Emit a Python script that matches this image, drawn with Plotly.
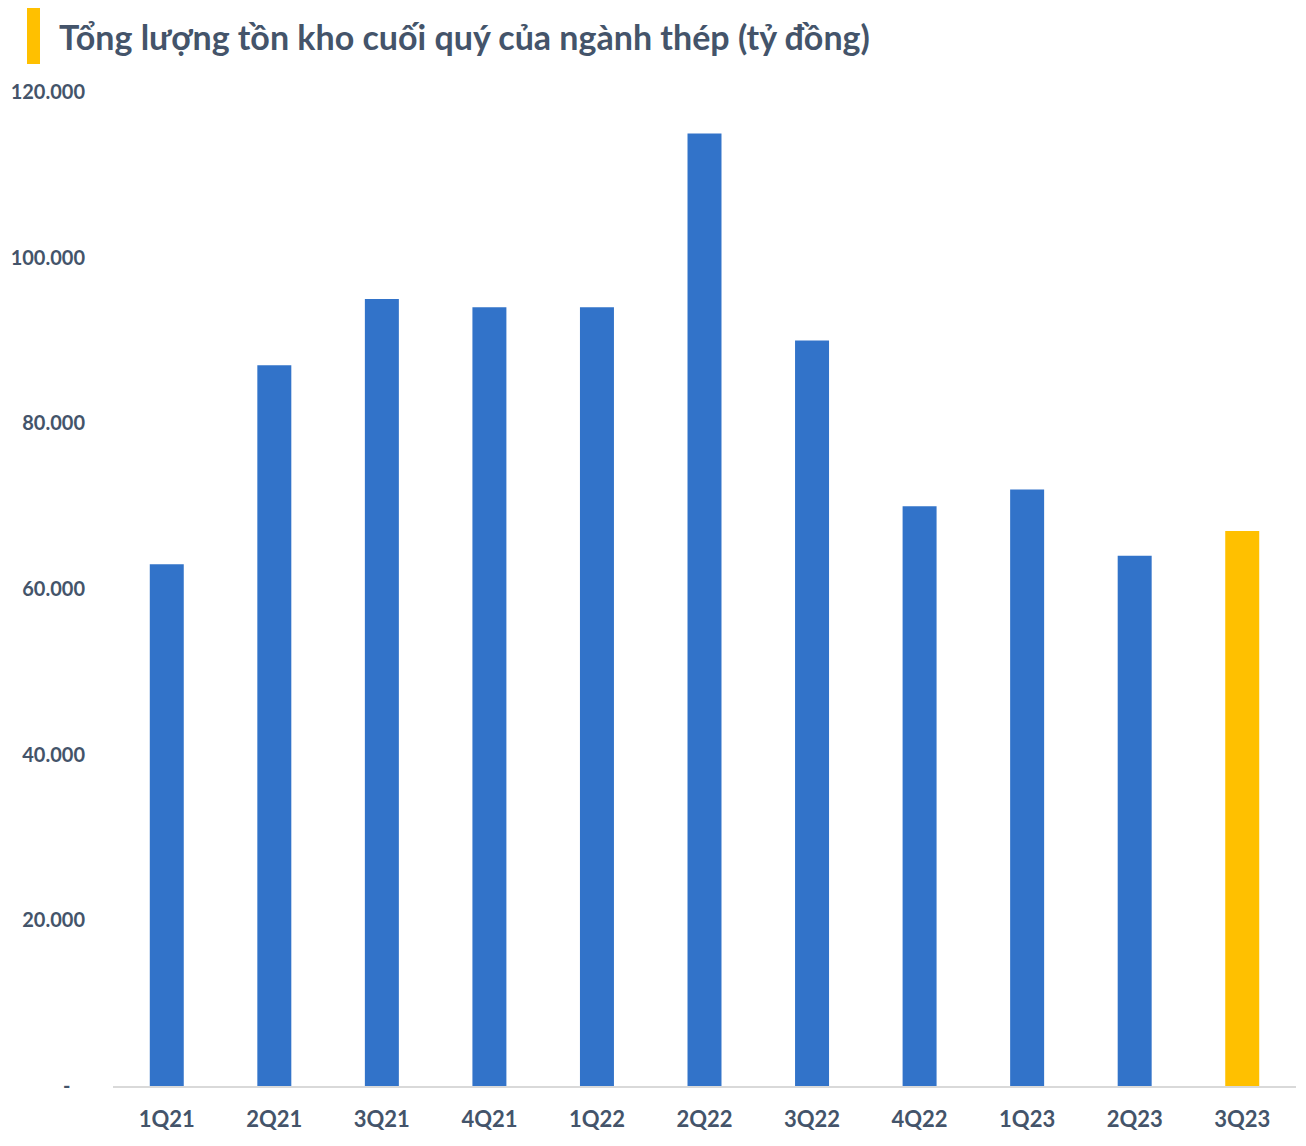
import plotly.graph_objects as go

categories = ["1Q21", "2Q21", "3Q21", "4Q21", "1Q22", "2Q22", "3Q22", "4Q22", "1Q23", "2Q23", "3Q23"]
values = [63000, 87000, 95000, 94000, 94000, 115000, 90000, 70000, 72000, 64000, 67000]
highlight = "3Q23"
y_ticks = [0, 20000, 40000, 60000, 80000, 100000, 120000]
y_ticktext = ["-\u00a0\u00a0\u00a0", "20.000", "40.000", "60.000", "80.000", "100.000", "120.000"]
title_text = "Tổng lượng tồn kho cuối quý của ngành thép (tỷ đồng)"

BLUE = "#3273C9"
YELLOW = "#FFC000"
TEXT = "#44546A"
FONT = "Lato, 'Noto Sans', sans-serif"

colors = [YELLOW if c == highlight else BLUE for c in categories]

fig = go.Figure(go.Bar(x=categories, y=values, marker=dict(color=colors, line=dict(width=0))))

OFF = 8  # page body margin
W, H = 1306 - 2 * OFF, 1146 - 2 * OFF
ml, mr, mt, mb = 113 - OFF, W - (1296 - OFF), 92 - OFF, H - (1086 - OFF)
pw = W - ml - mr
ph = H - mt - mb

def px_x(p):
    return (p - OFF - ml) / pw

def px_y(p):
    return (H - mb - (p - OFF)) / ph

fig.update_layout(
    width=W, height=H,
    margin=dict(l=ml, r=mr, t=mt, b=mb, autoexpand=False),
    paper_bgcolor="white", plot_bgcolor="white",
    bargap=0.684,
    showlegend=False,
    font=dict(family=FONT, color=TEXT),
    xaxis=dict(
        showgrid=False, showline=True, linecolor="#D9D9D9", linewidth=2,
        ticks="", tickfont=dict(size=22, color=TEXT, family=FONT, weight="bold"),
        ticklabelstandoff=13, automargin=False,
    ),
    yaxis=dict(
        range=[0, 120000], showgrid=False, zeroline=False, showline=False,
        tickmode="array", tickvals=y_ticks, ticktext=y_ticktext,
        tickfont=dict(size=20, color=TEXT, family=FONT, weight="bold"),
        ticklabelstandoff=27, automargin=False,
    ),
    shapes=[dict(
        type="rect", xref="paper", yref="paper",
        x0=px_x(27), x1=px_x(40), y0=px_y(64), y1=px_y(8),
        fillcolor=YELLOW, line=dict(width=0),
    )],
    annotations=[dict(
        text=title_text, xref="paper", yref="paper",
        x=px_x(57), y=px_y(36), xanchor="left", yanchor="middle",
        showarrow=False, font=dict(size=34, color=TEXT, family=FONT, weight="bold"),
    )],
)

fig.write_html("out.html")
